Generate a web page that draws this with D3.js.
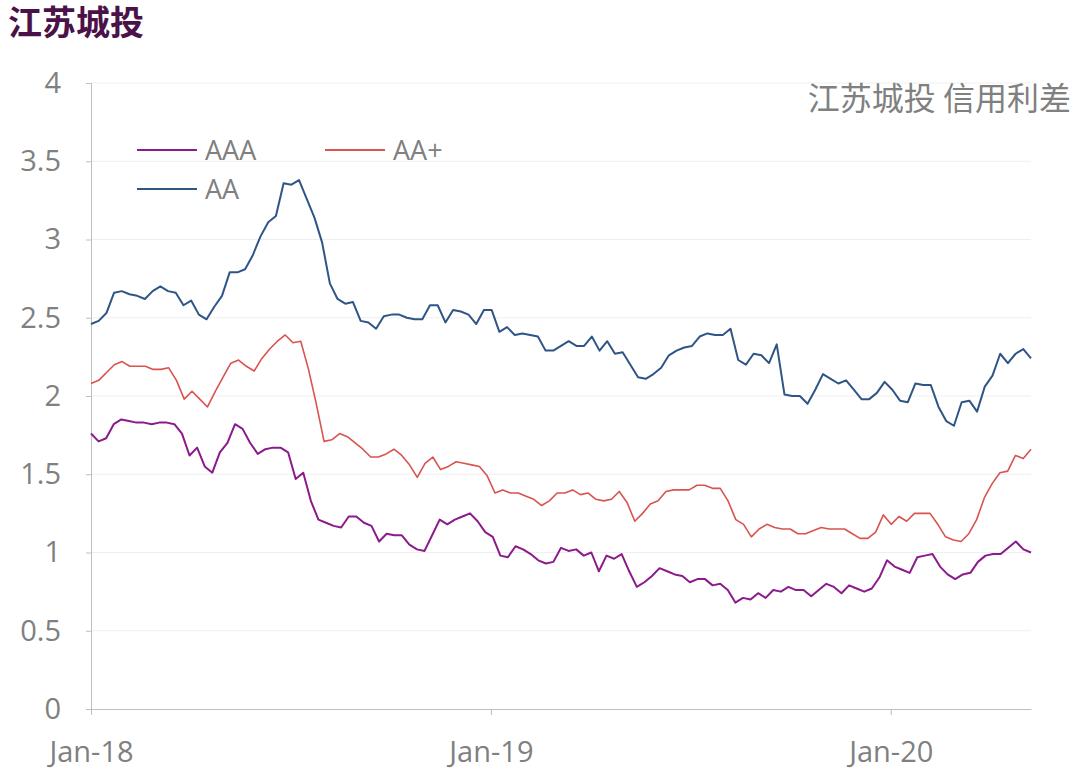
<!DOCTYPE html>
<html><head><meta charset="utf-8">
<script src="https://cdn.jsdelivr.net/npm/d3@7"></script>
<style>body{margin:0;background:#fff;font-family:"Noto Sans CJK SC","Open Sans",sans-serif}</style>
</head><body><svg id="c" width="1080" height="775"></svg>
<script>
const seriesNames=["AAA","AA+","AA"];
const colors=["#8B1A8B","#D9534F","#2F5587"];
const yTicks=[0,0.5,1,1.5,2,2.5,3,3.5,4];
const xTickLabels=["Jan-18","Jan-19","Jan-20"];
const startDate="2018-01-01", endDate="2020-05-08";
const AAA=[1.76,1.71,1.73,1.82,1.85,1.84,1.83,1.83,1.82,1.83,1.83,1.82,1.76,1.62,1.67,1.55,1.51,1.64,1.70,1.82,1.79,1.70,1.63,1.66,1.67,1.67,1.64,1.47,1.51,1.33,1.21,1.19,1.17,1.16,1.23,1.23,1.19,1.17,1.07,1.12,1.11,1.11,1.05,1.02,1.01,1.11,1.21,1.18,1.21,1.23,1.25,1.20,1.13,1.10,0.98,0.97,1.04,1.02,0.99,0.95,0.93,0.94,1.03,1.01,1.02,0.98,1.00,0.88,0.98,0.96,0.99,0.88,0.78,0.81,0.85,0.90,0.88,0.86,0.85,0.81,0.83,0.83,0.79,0.80,0.76,0.68,0.71,0.70,0.74,0.71,0.76,0.75,0.78,0.76,0.76,0.72,0.76,0.80,0.78,0.74,0.79,0.77,0.75,0.77,0.84,0.95,0.91,0.89,0.87,0.97,0.98,0.99,0.91,0.86,0.83,0.86,0.87,0.94,0.98,0.99,0.99,1.03,1.07,1.02,1.00];
const AAplus=[2.08,2.10,2.15,2.20,2.22,2.19,2.19,2.19,2.17,2.17,2.18,2.10,1.98,2.03,1.98,1.93,2.03,2.12,2.21,2.23,2.19,2.16,2.24,2.30,2.35,2.39,2.34,2.35,2.17,1.95,1.71,1.72,1.76,1.74,1.70,1.66,1.61,1.61,1.63,1.66,1.62,1.56,1.48,1.57,1.61,1.53,1.55,1.58,1.57,1.56,1.55,1.49,1.38,1.40,1.38,1.38,1.36,1.34,1.30,1.33,1.38,1.38,1.40,1.37,1.38,1.34,1.33,1.34,1.39,1.32,1.20,1.25,1.31,1.33,1.39,1.40,1.40,1.40,1.43,1.43,1.41,1.41,1.33,1.21,1.18,1.10,1.15,1.18,1.16,1.15,1.15,1.12,1.12,1.14,1.16,1.15,1.15,1.15,1.12,1.09,1.09,1.13,1.24,1.18,1.23,1.20,1.25,1.25,1.25,1.18,1.10,1.08,1.07,1.12,1.21,1.35,1.44,1.51,1.52,1.62,1.60,1.66];
const AA=[2.46,2.48,2.53,2.66,2.67,2.65,2.64,2.62,2.67,2.70,2.67,2.66,2.58,2.61,2.52,2.49,2.57,2.64,2.79,2.79,2.81,2.90,3.02,3.11,3.15,3.36,3.35,3.38,3.26,3.14,2.98,2.72,2.62,2.59,2.60,2.48,2.47,2.43,2.51,2.52,2.52,2.50,2.49,2.49,2.58,2.58,2.47,2.55,2.54,2.52,2.46,2.55,2.55,2.41,2.44,2.39,2.40,2.39,2.38,2.29,2.29,2.32,2.35,2.32,2.32,2.38,2.29,2.35,2.27,2.28,2.20,2.12,2.11,2.14,2.18,2.26,2.29,2.31,2.32,2.38,2.40,2.39,2.39,2.43,2.23,2.20,2.27,2.26,2.21,2.33,2.01,2.00,2.00,1.95,2.04,2.14,2.11,2.08,2.10,2.04,1.98,1.98,2.02,2.09,2.04,1.97,1.96,2.08,2.07,2.07,1.93,1.84,1.81,1.96,1.97,1.90,2.06,2.13,2.27,2.21,2.27,2.30,2.24];
const data=[AAA,AAplus,AA];

const svg=d3.select("#c");
const m={l:91,r:1031,t:83,b:709};
const t0=new Date(startDate), t1=new Date(endDate);
const x=d3.scaleTime().domain([t0,t1]).range([m.l,m.r]);
const y=d3.scaleLinear().domain([0,4]).range([m.b,m.t]);
const gray="#808080";
svg.append("g").selectAll("line").data(yTicks.slice(1)).join("line")
 .attr("x1",m.l).attr("x2",m.r).attr("y1",d=>y(d)).attr("y2",d=>y(d))
 .attr("stroke","#efefef").attr("stroke-width",1);
const ya=svg.append("g").attr("transform",`translate(${m.l},0)`)
 .call(d3.axisLeft(y).tickValues(yTicks).tickFormat(d3.format("")).tickSize(5).tickPadding(25));
ya.selectAll("text").attr("font-size",29).attr("fill",gray).attr("font-family","Open Sans, sans-serif");
ya.selectAll("line,path").attr("stroke","#bfbfbf");
const xDates=[new Date("2018-01-01"),new Date("2019-01-01"),new Date("2020-01-01")];
const xa=svg.append("g").attr("transform",`translate(0,${m.b})`)
 .call(d3.axisBottom(x).tickValues(xDates).tickFormat((d,i)=>xTickLabels[i]).tickSize(6).tickSizeOuter(0).tickPadding(26));
xa.selectAll("text").attr("font-size",29).attr("fill",gray).attr("font-family","Open Sans, sans-serif");
xa.selectAll("line,path").attr("stroke","#bfbfbf");
data.forEach((s,k)=>{
 const n=s.length;
 const pts=s.map((v,i)=>[new Date(+t0+(t1-t0)*i/(n-1)),v]);
 svg.append("path").datum(pts).attr("fill","none").attr("stroke",colors[k])
  .attr("stroke-width",k==1?1.6:2).attr("stroke-linejoin","round")
  .attr("d",d3.line().x(d=>x(d[0])).y(d=>y(d[1])));
});
const leg=[[137,150],[325,150],[137,189]];
seriesNames.forEach((nm,k)=>{
 svg.append("line").attr("x1",leg[k][0]).attr("x2",leg[k][0]+60).attr("y1",leg[k][1]).attr("y2",leg[k][1])
  .attr("stroke",colors[k]).attr("stroke-width",2);
 svg.append("text").attr("x",leg[k][0]+68).attr("y",leg[k][1]+10).text(nm)
  .attr("font-size",27).attr("fill",gray).attr("font-family","Open Sans, sans-serif");
});
svg.append("text").attr("x",1071).attr("y",110).attr("text-anchor","end").text("江苏城投 信用利差")
 .attr("font-size",32).attr("fill",gray);
svg.append("text").attr("x",8).attr("y",35).text("江苏城投")
 .attr("font-size",34).attr("font-weight","bold").attr("fill","#4A1248");
</script></body></html>
